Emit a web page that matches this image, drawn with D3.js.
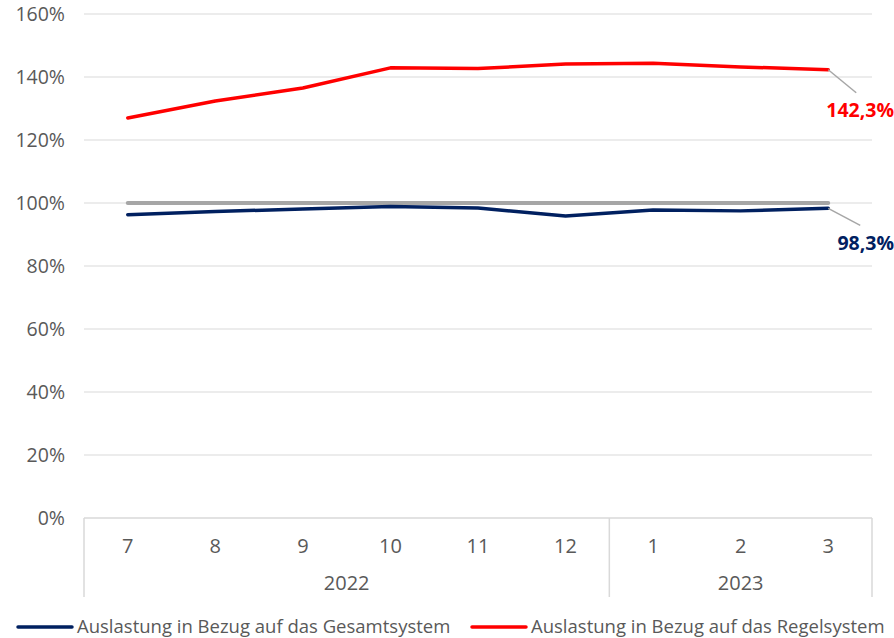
<!DOCTYPE html>
<html><head><meta charset="utf-8">
<script src="https://cdn.jsdelivr.net/npm/d3@7"></script>
<style>body{margin:0;background:#fff}svg{display:block;font-family:"Open Sans","Noto Sans",sans-serif}</style>
</head><body>
<svg id="c" width="894" height="638"></svg>
<script>
const months = ["7","8","9","10","11","12","1","2","3"];
const years = [{label:"2022", from:0, to:5},{label:"2023", from:6, to:8}];
const gesamt = [96.3, 97.3, 98.1, 98.9, 98.4, 95.9, 97.8, 97.5, 98.3];
const regel = [127.0, 132.4, 136.5, 142.9, 142.7, 144.1, 144.4, 143.2, 142.3];
const reference = [100,100,100,100,100,100,100,100,100];
const yTicks = [0,20,40,60,80,100,120,140,160];
const seriesNames = ["Auslastung in Bezug auf das Gesamtsystem","Auslastung in Bezug auf das Regelsystem"];

const svg = d3.select("#c");
const x = d3.scaleBand().domain(months.map((m,i)=>i)).range([84,872]);
const y = d3.scaleLinear().domain([0,160]).range([518,14]);
const grid = "#d9d9d9", txt = "#595959";

svg.append("g").selectAll("line").data(yTicks.filter(t=>t>0)).join("line")
  .attr("x1",84).attr("x2",872).attr("y1",d=>y(d)).attr("y2",d=>y(d))
  .attr("stroke",grid).attr("stroke-width",1);
svg.append("g").selectAll("text").data(yTicks).join("text")
  .attr("x",65).attr("y",d=>y(d)+7).attr("text-anchor","end")
  .attr("font-size",19.5).attr("fill",txt).text(d=>d+"%");
svg.append("line").attr("x1",84).attr("x2",872).attr("y1",y(0)).attr("y2",y(0)).attr("stroke",grid).attr("stroke-width",1.5);
const seps = [0,6,9].map(i=>i<9?x(i):x.range()[1]);
svg.append("g").selectAll("line").data(seps).join("line")
  .attr("x1",d=>d).attr("x2",d=>d).attr("y1",y(0)).attr("y2",597)
  .attr("stroke",grid).attr("stroke-width",1.5);
svg.append("g").selectAll("text").data(months).join("text")
  .attr("x",(d,i)=>x(i)+x.bandwidth()/2).attr("y",553).attr("text-anchor","middle")
  .attr("font-size",20).attr("fill",txt).text(d=>d);
svg.append("g").selectAll("text").data(years).join("text")
  .attr("x",d=>(x(d.from)+x(d.to)+x.bandwidth())/2).attr("y",590).attr("text-anchor","middle")
  .attr("font-size",20).attr("fill",txt).text(d=>d.label);

const line = d3.line().x((d,i)=>x(i)+x.bandwidth()/2).y(d=>y(d));
svg.append("path").datum(reference).attr("d",line).attr("fill","none").attr("stroke","#a6a6a6").attr("stroke-width",4).attr("stroke-linecap","round");
svg.append("path").datum(gesamt).attr("d",line).attr("fill","none").attr("stroke","#002060").attr("stroke-width",3.5).attr("stroke-linecap","round").attr("stroke-linejoin","round");
svg.append("path").datum(regel).attr("d",line).attr("fill","none").attr("stroke","#ff0000").attr("stroke-width",3.5).attr("stroke-linecap","round").attr("stroke-linejoin","round");

const last = months.length-1, lx = x(last)+x.bandwidth()/2;
const labels = [
  {v:regel[last], color:"#ff0000", dx:28, dy:23, ty:117},
  {v:gesamt[last], color:"#002060", dx:32, dy:17, ty:250}
];
labels.forEach(l=>{
  svg.append("line").attr("x1",lx).attr("y1",y(l.v)).attr("x2",lx+l.dx).attr("y2",y(l.v)+l.dy)
    .attr("stroke","#a6a6a6").attr("stroke-width",1.5);
  svg.append("text").attr("x",894).attr("y",l.ty).attr("text-anchor","end")
    .attr("font-size",19.5).attr("font-weight","bold").attr("fill",l.color)
    .text(d3.format(".1f")(l.v).replace(".",",")+"%");
});

const leg = [{name:seriesNames[0],color:"#002060",x:18},{name:seriesNames[1],color:"#ff0000",x:472}];
leg.forEach(l=>{
  svg.append("line").attr("x1",l.x).attr("x2",l.x+54).attr("y1",627).attr("y2",627)
    .attr("stroke",l.color).attr("stroke-width",3.5).attr("stroke-linecap","round");
  svg.append("text").attr("x",l.x+59).attr("y",633).attr("font-size",18.5).attr("fill",txt).text(l.name);
});
</script>
</body></html>
